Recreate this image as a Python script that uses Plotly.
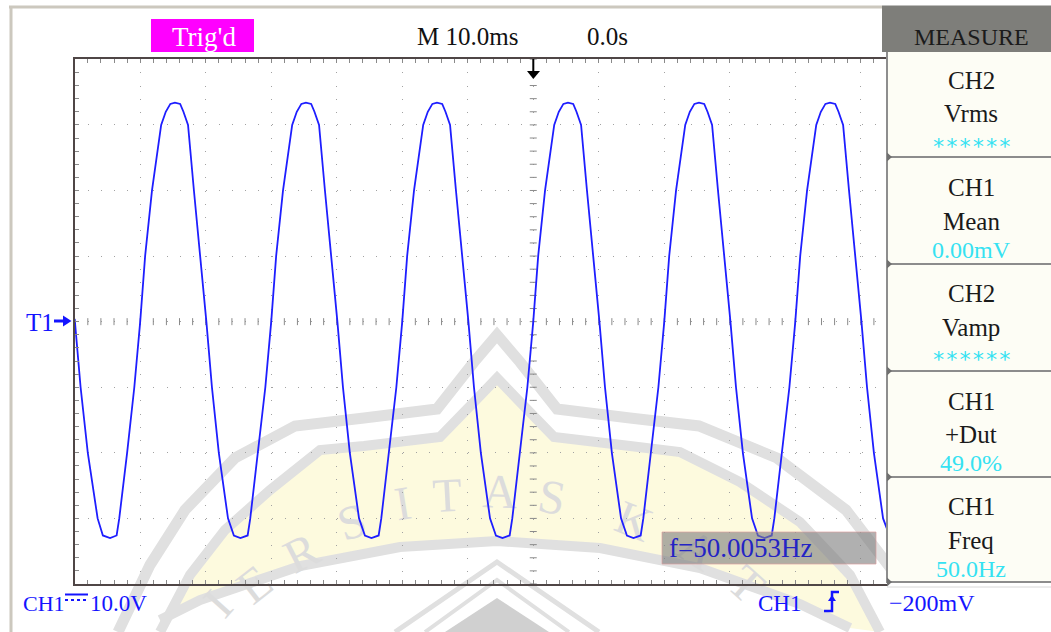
import plotly.graph_objects as go
import numpy as np

W, H = 1051, 632

time_ms = [
    -70.0, -69.1, -68.0, -66.5, -65.7, -64.6, -63.6,
    -63.2, -62.0, -60.9, -60.0, -59.25, -58.2, -56.8, -56.1, -55.4, -54.7, -53.9, -53.4,
    -52.7, -51.8, -50.8, -49.9, -49.05, -48.0, -46.6, -45.7, -44.7, -43.6,
    -43.2, -42.0, -40.9, -40.0, -39.25, -38.2, -36.8, -36.1, -35.4, -34.7, -33.9, -33.4,
    -32.7, -31.8, -30.8, -29.9, -29.05, -28.0, -26.6, -25.7, -24.7, -23.6,
    -23.2, -22.0, -20.9, -20.0, -19.25, -18.2, -16.8, -16.1, -15.4, -14.7, -13.9, -13.4,
    -12.7, -11.8, -10.8, -9.9, -9.05, -8.0, -6.6, -5.7, -4.7, -3.6,
    -3.2, -2.0, -0.9, 0.0, 0.75, 1.8, 3.2, 3.9, 4.6, 5.3, 6.1, 6.6,
    7.3, 8.2, 9.2, 10.1, 10.95, 12.0, 13.4, 14.3, 15.3, 16.4,
    16.8, 18.0, 19.1, 20.0, 20.75, 21.8, 23.2, 23.9, 24.6, 25.3, 26.1, 26.6,
    27.3, 28.2, 29.2, 30.1, 30.95, 32.0, 33.4, 34.3, 35.3, 36.4,
    36.8, 38.0, 39.1, 40.0, 40.75, 41.8, 43.2, 43.9, 44.6, 45.3, 46.1, 46.6,
    47.3, 48.2, 49.2, 50.1, 50.95, 52.0, 53.4, 54.0,
]
volts = [
    0.4, -10, -20, -30, -32.6, -33.0, -32.6,
    -30, -20, -10, 0, 10, 20, 30, 32, 33.2, 33.4, 33.2, 32,
    30, 20, 10, 0, -10, -20, -30, -32.6, -33.0, -32.6,
    -30, -20, -10, 0, 10, 20, 30, 32, 33.2, 33.4, 33.2, 32,
    30, 20, 10, 0, -10, -20, -30, -32.6, -33.0, -32.6,
    -30, -20, -10, 0, 10, 20, 30, 32, 33.2, 33.4, 33.2, 32,
    30, 20, 10, 0, -10, -20, -30, -32.6, -33.0, -32.6,
    -30, -20, -10, 0, 10, 20, 30, 32, 33.2, 33.4, 33.2, 32,
    30, 20, 10, 0, -10, -20, -30, -32.6, -33.0, -32.6,
    -30, -20, -10, 0, 10, 20, 30, 32, 33.2, 33.4, 33.2, 32,
    30, 20, 10, 0, -10, -20, -30, -32.6, -33.0, -32.6,
    -30, -20, -10, 0, 10, 20, 30, 32, 33.2, 33.4, 33.2, 32,
    30, 20, 10, 0, -10, -20, -30, -31.6,
]

trig_status = "Trig'd"
timebase = "M 10.0ms"
trig_pos = "0.0s"
menu_title = "MEASURE"
menu_channels = ["CH2", "CH1", "CH2", "CH1", "CH1"]
menu_items = ["Vrms", "Mean", "Vamp", "+Dut", "Freq"]
menu_values = ["******", "0.00mV", "******", "49.0%", "50.0Hz"]
freq_readout = "f=50.0053Hz"
ch1_label = "CH1"
ch1_scale = "10.0V"
trig_source = "CH1"
trig_level = "\u2212200mV"
ref_marker = "T1"
watermark_letters = ["I", "E", "R", "S", "I", "T", "A", "S", "K", "A", "T"]

X_RANGE = [-70, 54.0]
Y_RANGE = [-40, 40]
X_DIV = 10
Y_DIV = 10

# ---------------- layout helpers (pixel -> paper) ----------------
def px(x):
    return x / W

def py(y):
    return 1 - y / H

PL, PR, PT, PB = 74.7, 887.0, 59.3, 584.0
SERIF = "Liberation Serif"
BLUE = "#1414ff"
CYAN = "#35e2f2"

shapes = []
annotations = []

def seg(x0, y0, x1, y1, color, width, dash=None, layer="above"):
    ln = dict(color=color, width=width)
    if dash:
        ln["dash"] = dash
    shapes.append(dict(type="line", xref="paper", yref="paper",
                       x0=px(x0), y0=py(y0), x1=px(x1), y1=py(y1),
                       line=ln, layer=layer))

def rect(x0, y0, x1, y1, fill, line_color=None, line_width=0, layer="above"):
    shapes.append(dict(type="rect", xref="paper", yref="paper",
                       x0=px(x0), y0=py(y1), x1=px(x1), y1=py(y0),
                       fillcolor=fill,
                       line=dict(color=line_color or "rgba(0,0,0,0)", width=line_width),
                       layer=layer))

def poly(points, fill=None, line_color=None, width=0, closed=True, layer="above"):
    d = "M " + " L ".join(f"{px(x):.5f},{py(y):.5f}" for x, y in points)
    if closed:
        d += " Z"
    shapes.append(dict(type="path", xref="paper", yref="paper", path=d,
                       fillcolor=fill if fill else "rgba(0,0,0,0)",
                       line=dict(color=line_color or "rgba(0,0,0,0)", width=width),
                       layer=layer))

def text(x, y, s, size, color, xanchor="center", family=SERIF):
    annotations.append(dict(x=px(x), y=py(y), xref="paper", yref="paper", text=s,
                            showarrow=False, xanchor=xanchor, yanchor="middle",
                            font=dict(family=family, size=size, color=color)))

# ---------------- watermark (faint, beneath grid) ----------------
WM_GRAY = "rgb(224,224,224)"
WM_YEL = "rgb(253,250,222)"
inner_band = [(160, 632), (190, 575), (225, 530), (270, 490), (320, 450), (364, 446),
              (440, 437), (474, 402), (497, 378), (520, 402), (554, 437), (630, 446),
              (680, 452), (740, 482), (800, 522), (850, 575), (880, 632)]
lower_arch = [(850, 628), (800, 604), (700, 568), (600, 548), (497, 541), (400, 547),
              (300, 566), (200, 600), (160, 620)]
poly(inner_band + lower_arch, fill=WM_YEL, layer="below")
outer_band = [(118, 632), (150, 565), (185, 510), (235, 458), (295, 426), (364, 418),
              (437, 409), (474, 362), (497, 335), (520, 362), (557, 409), (630, 418),
              (699, 426), (777, 458), (846, 510), (892, 570)]
poly(outer_band, line_color=WM_GRAY, width=11, closed=False, layer="below")
poly(inner_band, line_color=WM_GRAY, width=10, closed=False, layer="below")
poly(list(reversed(lower_arch)), line_color=WM_GRAY, width=10, closed=False, layer="below")
poly([(395, 632), (497, 562), (599, 632)], line_color=WM_GRAY, width=5, closed=False, layer="below")
poly([(425, 632), (497, 580), (569, 632)], line_color=WM_GRAY, width=4, closed=False, layer="below")
poly([(497, 598), (445, 632), (549, 632)], fill="rgb(208,208,208)", layer="below")
letter_pos = [(214, 600, -48), (251, 580, -38), (299, 548, -27), (350, 517, -18),
              (402, 498, -9), (447, 490, -3), (500, 486, 2), (553, 492, 10),
              (636, 516, 22), (700, 545, 32), (750, 580, 42)]
for ch, (lx, ly, ang) in zip(watermark_letters, letter_pos):
    shapes.append(dict(type="rect", xref="paper", yref="paper",
                       x0=px(lx - 20), x1=px(lx + 20), y0=py(ly + 20), y1=py(ly - 20),
                       fillcolor="rgba(0,0,0,0)", line=dict(width=0), layer="below",
                       label=dict(text=ch, textangle=ang, textposition="middle center",
                                  font=dict(family=SERIF, size=48, color="rgb(220,220,220)"))))

# ---------------- outer frame ----------------
seg(9, 7, 882, 7, "#ccc8be", 3)
seg(11, 6, 11, 632, "#ccc8be", 3)

# ---------------- right MEASURE panel ----------------
rect(882, 5.5, 1051, 52, "#7e7e7a")
rect(887, 52, 1051, 582, "#fdfdf5")
seg(887, 52, 887, 583, "#8e8e8e", 2)
cell_edges = [52, 157, 264, 371, 477, 582]
for ce in cell_edges[1:]:
    seg(887, ce, 1051, ce, "#8c8c8c", 2)
    poly([(887, ce - 4.5), (892, ce), (887, ce + 4.5)], fill="#707070")
seg(887, 587, 1051, 587, "#d8d8d8", 1)
text(971, 37, menu_title, 24, "#1b1b1b")
cell_rows = [(80, 114, 141), (187, 221.5, 250), (293, 327, 354), (401, 434.5, 463), (506, 540.5, 569)]
for (yc, yi, yv), chn, item, val in zip(cell_rows, menu_channels, menu_items, menu_values):
    text(971, yc, chn, 25, "#1a1a1a")
    text(971, yi, item, 25, "#1a1a1a")
    if val.startswith("*"):
        text(971, yv + 5, val, 22, CYAN, family="DejaVu Sans Mono")
    else:
        text(971, yv, val, 24, CYAN)

# ---------------- top status line ----------------
rect(151, 19, 254, 52, "#ff00ff")
text(204, 37, trig_status, 27, "#ffffff")
text(467, 37, timebase, 25, "#111111")
text(607, 37, trig_pos, 25, "#111111")

# trigger position arrow
seg(533.3, 59, 533.3, 72, "#000000", 2)
poly([(527, 71), (540, 71), (533.3, 79)], fill="#000000")

# T1 reference marker
text(40, 323, ref_marker, 25, BLUE)
seg(54, 321, 64, 321, BLUE, 3)
poly([(63, 315.5), (71.5, 321), (63, 326.5)], fill=BLUE)

# frequency readout box
rect(662, 532, 876, 564, "rgba(128,128,128,0.62)", "rgba(220,160,160,0.7)", 1)
text(667, 548, freq_readout, 27, "#2424c4", xanchor="left")

# bottom status line
text(21, 603, ch1_label, 22, BLUE, xanchor="left")
seg(65, 594.5, 88, 594.5, BLUE, 2)
seg(65, 600, 88, 600, BLUE, 2, dash="dot")
text(88, 603, ch1_scale, 23, BLUE, xanchor="left")
text(756, 603, trig_source, 23, BLUE, xanchor="left")
poly([(824, 611), (832, 611), (832, 592), (839, 592)], line_color=BLUE, width=2.5, closed=False)
poly([(828, 601), (836, 601), (832, 595)], fill=BLUE)
text(887, 603, trig_level, 24, BLUE, xanchor="left")

# ---------------- traces ----------------
fig = go.Figure()

# centre-line graticule tick marks
cx = np.arange(X_RANGE[0], X_RANGE[1] + 0.01, X_DIV / 5)
cy = np.arange(Y_RANGE[0], Y_RANGE[1] + 0.01, Y_DIV / 5)
fig.add_trace(go.Scatter(x=cx, y=np.zeros_like(cx), mode="markers", hoverinfo="skip",
                         marker=dict(symbol="line-ns", size=5, line=dict(width=1, color="#8a8a8a"))))
fig.add_trace(go.Scatter(x=np.zeros_like(cy), y=cy, mode="markers", hoverinfo="skip",
                         marker=dict(symbol="line-ew", size=5, line=dict(width=1, color="#8a8a8a"))))

fig.add_trace(go.Scatter(x=time_ms, y=volts, mode="lines",
                         line=dict(color="#1e1eff", width=1.8), hoverinfo="skip"))

axis_common = dict(showticklabels=False, zeroline=False, fixedrange=True,
                   showgrid=True, gridcolor="#a2a2a2", gridwidth=1, griddash="1px,12.12px",
                   showline=True, linecolor="#4f4646", linewidth=2,
                   ticks="inside", ticklen=4, tickwidth=1, tickcolor="#8a8a8a",
                   minor=dict(ticks="inside", ticklen=4, tickwidth=1, tickcolor="#8a8a8a", showgrid=False))

fig.update_layout(
    width=W, height=H, margin=dict(l=0, r=0, t=0, b=0),
    paper_bgcolor="#ffffff", plot_bgcolor="rgba(0,0,0,0)",
    showlegend=False,
    xaxis=dict(domain=[px(PL), px(PR)], range=X_RANGE, dtick=X_DIV, tick0=0,
               mirror="ticks", **{**axis_common, "minor": {**axis_common["minor"], "dtick": X_DIV / 5}}),
    yaxis=dict(domain=[py(PB), py(PT)], range=Y_RANGE, dtick=Y_DIV, tick0=0,
               mirror=False, **{**axis_common, "minor": {**axis_common["minor"], "dtick": Y_DIV / 5}}),
    shapes=shapes,
    annotations=annotations,
)

fig.write_html("out.html", config={"displayModeBar": False},
               post_script="document.body.style.margin='0px';document.body.style.overflow='hidden';")
